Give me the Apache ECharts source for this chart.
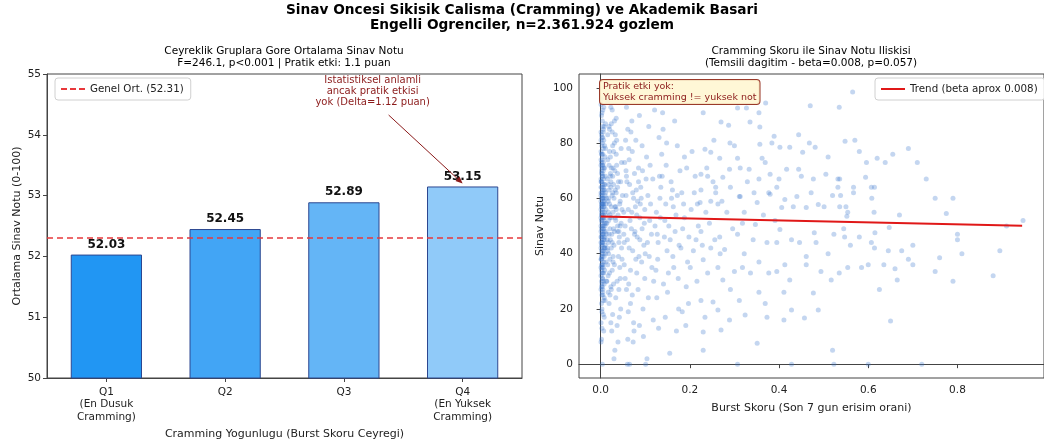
<!DOCTYPE html>
<html>
<head>
<meta charset="utf-8">
<script src="https://cdn.jsdelivr.net/npm/echarts@6/dist/echarts.min.js"></script>
<style>
html, body { margin: 0; padding: 0; background: #fff; }
#c { width: 1044px; height: 446px; }
</style>
</head>
<body>
<div id="c"></div>
<script>
// Quartile means (left panel)
const ceyrekler = ['Q1\n(En Dusuk\nCramming)', 'Q2', 'Q3', 'Q4\n(En Yuksek\nCramming)'];
const ortalamaNot = [52.03, 52.45, 52.89, 53.15];
const genelOrtalama = 52.31;
const solYTikler = [50, 51, 52, 53, 54, 55];

// Burst score vs exam score (right panel)
const sagXTikler = [0, 0.2, 0.4, 0.6, 0.8];
const sagYTikler = [0, 20, 40, 60, 80, 100];
const trendX = [0, 0.945];
const trendY = [53.4, 50.1];

// representative sample of [burst score, exam score]
const dagilim = [
  // x ~ 0.00 - 0.015
  [0.002,52],[0.004,61],[0.001,44],[0.006,70],[0.003,38],[0.008,57],[0.005,49],[0.002,83],[0.007,33],[0.010,65],
  [0.001,27],[0.004,74],[0.009,46],[0.003,58],[0.006,41],[0.002,90],[0.011,54],[0.005,36],[0.001,67],[0.008,29],
  [0.003,79],[0.012,48],[0.004,56],[0.007,63],[0.002,22],[0.006,85],[0.010,42],[0.001,59],[0.009,71],[0.005,31],
  [0.003,47],[0.013,60],[0.002,76],[0.008,39],[0.004,53],[0.006,18],[0.011,68],[0.001,35],[0.007,81],[0.003,45],
  [0.005,62],[0.002,28],[0.009,55],[0.004,88],[0.012,37],[0.006,50],[0.001,72],[0.008,24],[0.003,64],[0.010,43],
  [0.002,57],[0.007,93],[0.005,33],[0.004,69],[0.001,15],[0.006,47],[0.011,78],[0.003,40],[0.009,51],[0.002,66],
  [0.014,30],[0.005,58],[0.001,84],[0.008,45],[0.004,26],[0.006,73],[0.003,54],[0.010,61],[0.002,36],[0.007,49],
  [0.001,94],[0.005,41],[0.012,56],[0.003,20],[0.006,67],[0.002,46],[0.009,34],[0.004,80],[0.008,53],[0.001,62],
  [0.007,12],[0.003,71],[0.005,44],[0.011,87],[0.002,39],[0.006,59],[0.004,31],[0.010,75],[0.001,50],[0.008,65],
  [0.003,25],[0.013,47],[0.005,82],[0.002,55],[0.007,37],[0.004,63],[0.009,42],[0.001,77],[0.006,30],[0.003,52],
  [0.002,9],[0.005,68],[0.008,86],[0.004,48],[0.011,40],[0.001,32],[0.006,57],[0.003,91],[0.010,23],[0.007,60],
  [0.002,43],[0.004,72],[0.012,51],[0.005,27],[0.001,64],[0.009,79],[0.003,35],[0.006,46],[0.008,17],[0.002,70],
  [0.004,58],[0.007,42],[0.001,53],[0.005,76],[0.003,29],[0.010,50],[0.006,84],[0.002,38],[0.011,62],[0.004,44],
  [0.004,0],[0.001,8],[0.003,13],[0.005,92],[0.002,96],[0.006,54],[0.001,48],[0.003,66],[0.007,52],[0.002,60],
  [0.001,56],[0.003,62],[0.005,47],[0.002,41],[0.004,68],[0.006,35],[0.001,74],[0.003,51],[0.007,58],[0.002,30],
  [0.005,65],[0.004,43],[0.001,38],[0.006,78],[0.003,57],[0.008,48],[0.002,69],[0.005,25],[0.004,60],[0.001,46],
  [0.003,82],[0.006,53],[0.002,34],[0.007,71],[0.004,39],[0.001,61],[0.005,55],[0.003,19],[0.002,49],[0.006,64],
  [0.004,86],[0.001,42],[0.008,59],[0.003,33],[0.005,72],[0.002,54],[0.007,45],[0.004,28],[0.001,66],[0.006,40],
  [0.003,76],[0.002,58],[0.005,50],[0.004,36],[0.001,81],[0.009,63],[0.003,44],[0.006,23],[0.002,73],[0.005,60],
  // x ~ 0.015 - 0.05
  [0.018,55],[0.022,68],[0.016,41],[0.027,79],[0.031,48],[0.020,33],[0.035,62],[0.024,57],[0.019,86],[0.041,44],
  [0.028,71],[0.017,26],[0.033,53],[0.045,66],[0.021,38],[0.026,92],[0.038,50],[0.023,15],[0.030,60],[0.016,74],
  [0.043,35],[0.025,47],[0.019,63],[0.036,81],[0.029,29],[0.048,56],[0.022,45],[0.032,70],[0.018,52],[0.040,39],
  [0.026,84],[0.034,24],[0.020,58],[0.047,73],[0.024,42],[0.015,67],[0.039,54],[0.027,18],[0.031,88],[0.021,49],
  [0.044,31],[0.017,59],[0.035,76],[0.028,37],[0.023,64],[0.042,46],[0.019,22],[0.033,83],[0.025,53],[0.049,61],
  [0.037,14],[0.022,69],[0.030,43],[0.016,95],[0.046,51],[0.026,34],[0.034,57],[0.020,77],[0.041,27],[0.029,65],
  [0.018,40],[0.032,5],[0.024,87],[0.038,48],[0.027,62],[0.045,20],[0.021,54],[0.036,72],[0.017,32],[0.043,58],
  [0.025,12],[0.031,80],[0.019,47],[0.040,66],[0.023,28],[0.047,42],[0.035,89],[0.028,55],[0.016,36],[0.033,63],
  [0.039,8],[0.022,75],[0.044,50],[0.026,44],[0.030,2],[0.018,60],[0.037,30],[0.024,71],[0.048,38],[0.020,85],
  [0.034,52],[0.042,17],[0.027,68],[0.015,45],[0.032,57],[0.046,78],[0.021,25],[0.029,49],[0.038,64],[0.023,93],
  [0.012,58],[0.017,44],[0.023,66],[0.014,51],[0.028,39],[0.019,72],[0.035,56],[0.013,30],[0.026,61],[0.041,48],
  [0.016,83],[0.031,36],[0.021,53],[0.038,69],[0.015,42],[0.044,59],[0.024,27],[0.018,65],[0.052,47],[0.029,77],
  // x ~ 0.05 - 0.12
  [0.052,55],[0.058,68],[0.064,42],[0.071,77],[0.055,31],[0.083,59],[0.061,85],[0.076,47],[0.090,64],[0.067,22],
  [0.098,51],[0.054,73],[0.079,38],[0.087,90],[0.062,56],[0.105,44],[0.072,62],[0.058,27],[0.094,70],[0.069,49],
  [0.112,58],[0.081,33],[0.056,81],[0.100,40],[0.065,65],[0.088,53],[0.074,15],[0.117,67],[0.060,45],[0.093,79],
  [0.078,57],[0.053,36],[0.107,24],[0.085,71],[0.066,52],[0.097,43],[0.070,88],[0.115,35],[0.057,61],[0.082,46],
  [0.103,75],[0.063,29],[0.091,60],[0.075,12],[0.110,52],[0.068,84],[0.086,39],[0.059,66],[0.099,56],[0.077,48],
  [0.119,30],[0.064,74],[0.095,20],[0.080,63],[0.055,50],[0.108,86],[0.072,41],[0.089,58],[0.061,9],[0.102,67],
  [0.084,27],[0.070,55],[0.114,47],[0.058,93],[0.092,37],[0.076,69],[0.065,0],[0.060,0],[0.101,0],[0.104,2],
  [0.096,10],[0.073,8],[0.087,14],[0.062,19],[0.106,61],[0.079,81],[0.053,44],[0.111,72],[0.067,34],[0.093,49],
  [0.118,16],[0.081,54],[0.057,70],[0.099,31],[0.074,60],[0.088,45],[0.063,78],[0.109,39],[0.071,25],[0.085,66],
  // x ~ 0.12 - 0.22
  [0.122,50],[0.135,64],[0.128,38],[0.147,72],[0.156,45],[0.131,82],[0.163,57],[0.141,29],[0.172,61],[0.125,55],
  [0.180,42],[0.138,68],[0.152,33],[0.188,75],[0.127,47],[0.166,88],[0.144,52],[0.195,37],[0.133,60],[0.175,20],
  [0.158,66],[0.121,92],[0.184,49],[0.149,41],[0.137,76],[0.169,54],[0.192,28],[0.129,44],[0.161,63],[0.145,17],
  [0.178,70],[0.153,50],[0.126,24],[0.186,58],[0.140,85],[0.164,35],[0.198,46],[0.132,68],[0.155,4],[0.172,79],
  [0.146,58],[0.191,14],[0.124,34],[0.167,48],[0.139,91],[0.182,62],[0.150,26],[0.176,43],[0.134,53],[0.193,71],
  [0.159,60],[0.170,12],[0.143,46],[0.188,53],[0.130,13],[0.183,19],[0.197,22],[0.162,39],[0.148,80],[0.174,31],
  [0.203,56],[0.208,41],[0.212,68],[0.216,30],[0.205,77],[0.219,50],[0.210,62],[0.214,45],[0.201,35],[0.217,58],
  // x ~ 0.22 - 0.55
  [0.230,91],[0.270,87.6],[0.307,92.7],[0.327,92.7],[0.355,91],[0.335,87.6],[0.357,85.8],[0.287,86.5],[0.470,93.5],[0.370,94.5],
  [0.234,77.8],[0.247,76.7],[0.290,80],[0.300,79],[0.254,81],[0.357,79.6],[0.384,80],[0.389,82.5],[0.402,78.5],[0.424,78.5],
  [0.444,83],[0.453,76.7],[0.468,80],[0.481,78.5],[0.510,75],[0.267,74.5],[0.307,74.5],[0.362,74.5],[0.369,73],[0.417,70.5],
  [0.444,70.5],[0.450,68],[0.477,67],[0.505,68.7],[0.532,67],[0.225,68.7],[0.240,68],[0.274,67.6],[0.289,70.5],[0.313,71],
  [0.333,70.5],[0.355,67],[0.380,68.7],[0.400,67],[0.225,63],[0.252,66],[0.258,62],[0.291,64],[0.313,60.7],[0.344,62],
  [0.377,62],[0.395,64],[0.413,59.6],[0.440,60.7],[0.472,62],[0.488,57.8],[0.520,61],[0.223,58.5],[0.247,59],[0.263,58],
  [0.311,60.7],[0.322,55],[0.351,58.5],[0.380,61.5],[0.406,56.7],[0.432,57],[0.461,56.7],[0.501,57],[0.225,48],[0.256,45],
  [0.247,42],[0.267,46],[0.278,41.5],[0.307,47],[0.322,40],[0.347,50.5],[0.355,37],[0.373,44],[0.395,44],[0.402,48.7],
  [0.428,45],[0.446,44],[0.461,39],[0.479,47.6],[0.483,44],[0.510,40],[0.523,47],[0.230,37.8],[0.240,33],[0.263,35],
  [0.274,30.5],[0.300,33.5],[0.318,35],[0.336,33],[0.377,33],[0.395,33.5],[0.413,36],[0.424,30.5],[0.461,36],[0.477,25.8],
  [0.494,33.5],[0.517,30.5],[0.225,23],[0.252,22.5],[0.291,27],[0.311,23],[0.355,26],[0.369,22],[0.411,26],[0.428,19.6],
  [0.457,16.7],[0.488,19.6],[0.234,17],[0.263,19.6],[0.289,16],[0.324,17.8],[0.373,17],[0.411,16],[0.230,11.6],[0.270,12.4],
  [0.351,7.6],[0.520,5],[0.230,5],[0.307,0],[0.428,0],[0.523,0],[0.236,55],[0.244,51],[0.258,64],[0.228,43],
  [0.283,55],[0.268,40],[0.296,49],[0.238,71],[0.342,45],[0.365,54],[0.318,51],[0.391,52],[0.329,66],[0.272,59],
  // x ~ 0.53 - 0.95
  [0.565,98.5],[0.548,80.7],[0.570,81],[0.580,77],[0.620,74.5],[0.655,76],[0.690,78],[0.710,73],[0.730,67],[0.750,60],
  [0.790,60],[0.775,54.5],[0.670,54],[0.947,52],[0.910,50],[0.800,47],[0.800,45],[0.810,40],[0.760,38.5],[0.750,33.5],
  [0.790,30],[0.895,41],[0.880,32],[0.700,43],[0.700,36],[0.690,38],[0.675,41],[0.660,34.5],[0.665,30.5],[0.625,27],
  [0.650,15.6],[0.645,41],[0.635,36],[0.615,47.6],[0.613,55],[0.607,44],[0.614,42],[0.600,36],[0.585,35],[0.580,46],
  [0.560,43],[0.554,35],[0.535,33],[0.547,46],[0.545,49],[0.550,57],[0.554,55],[0.536,57],[0.552,53.5],[0.567,62],
  [0.538,61],[0.567,64],[0.532,64],[0.536,67],[0.596,73],[0.638,73],[0.594,67.6],[0.607,64],[0.614,64],[0.608,60],
  [0.647,49.5],[0.600,0],[0.720,0],[0.535,93]
];

const chart = echarts.init(document.getElementById('c'), null, { renderer: 'canvas' });
const FONT = 'DejaVu Sans';
const koyuKirmizi = '#8b1a1a';
const ortRenk = '#e8383b';
const trendRenk = '#e01818';

const tickStil = { fontFamily: FONT, fontSize: 10.5, color: '#222' };
const eksenCizgi = { show: true, lineStyle: { color: '#444', width: 1 } };
const eksenTik = { show: true, length: 4, lineStyle: { color: '#444' } };
const lejantKutu = {
  itemWidth: 24, itemHeight: 2,
  padding: [6, 7, 6, 6],
  backgroundColor: 'rgba(255,255,255,0.85)',
  borderColor: '#d0d0d0', borderWidth: 1, borderRadius: 3,
  textStyle: { fontFamily: FONT, fontSize: 10.3, color: '#222' }
};

chart.setOption({
  animation: false,
  backgroundColor: '#fff',
  textStyle: { fontFamily: FONT },
  title: [
    {
      text: 'Sinav Oncesi Sikisik Calisma (Cramming) ve Akademik Basari\nEngelli Ogrenciler, n=2.361.924 gozlem',
      left: 'center', top: 3, padding: 0,
      textStyle: { fontFamily: FONT, fontSize: 13.7, fontWeight: 'bold', color: '#000', lineHeight: 15 }
    },
    {
      text: 'Ceyreklik Gruplara Gore Ortalama Sinav Notu\nF=246.1, p<0.001 | Pratik etki: 1.1 puan',
      left: 284, top: 45, textAlign: 'center', padding: 0,
      textStyle: { fontFamily: FONT, fontSize: 10.5, fontWeight: 'normal', color: '#000', lineHeight: 12 }
    },
    {
      text: 'Cramming Skoru ile Sinav Notu Iliskisi\n(Temsili dagitim - beta=0.008, p=0.057)',
      left: 811, top: 45, textAlign: 'center', padding: 0,
      textStyle: { fontFamily: FONT, fontSize: 10.5, fontWeight: 'normal', color: '#000', lineHeight: 12 }
    }
  ],
  legend: [
    Object.assign({
      data: [{ name: 'Genel Ort. (52.31)', icon: 'path://M0,0h6v2h-6z M9,0h6v2h-6z M18,0h6v2h-6z' }],
      left: 55, top: 78
    }, lejantKutu),
    Object.assign({
      data: [{ name: 'Trend (beta aprox 0.008)', icon: 'rect' }],
      left: 875, top: 78
    }, lejantKutu)
  ],
  grid: [
    { left: 47, top: 74, width: 475, height: 304, show: true, borderColor: '#444', borderWidth: 1, containLabel: false },
    { left: 579, top: 74, width: 474, height: 304, show: true, borderColor: '#444', borderWidth: 1, containLabel: false }
  ],
  xAxis: [
    {
      gridIndex: 0, type: 'category', data: ceyrekler,
      axisLine: eksenCizgi, axisTick: Object.assign({ alignWithLabel: true }, eksenTik),
      axisLabel: Object.assign({ margin: 8, lineHeight: 12.5, interval: 0 }, tickStil),
      splitLine: { show: false },
      name: 'Cramming Yogunlugu (Burst Skoru Ceyregi)', nameLocation: 'middle', nameGap: 50,
      nameTextStyle: { fontFamily: FONT, fontSize: 11, color: '#222' }
    },
    {
      gridIndex: 1, type: 'value', min: -0.0484, max: 0.994,
      axisLine: eksenCizgi,
      axisTick: Object.assign({ customValues: sagXTikler }, eksenTik),
      axisLabel: Object.assign({ customValues: sagXTikler, margin: 7, formatter: v => v.toFixed(1) }, tickStil),
      splitLine: { show: false },
      name: 'Burst Skoru (Son 7 gun erisim orani)', nameLocation: 'middle', nameGap: 25,
      nameTextStyle: { fontFamily: FONT, fontSize: 11, color: '#222' }
    }
  ],
  yAxis: [
    {
      gridIndex: 0, type: 'value', min: solYTikler[0], max: solYTikler[solYTikler.length - 1], interval: 1,
      axisLine: eksenCizgi, axisTick: eksenTik,
      axisLabel: Object.assign({ margin: 6 }, tickStil),
      splitLine: { show: false },
      name: 'Ortalama Sinav Notu (0-100)', nameLocation: 'middle', nameGap: 24,
      nameTextStyle: { fontFamily: FONT, fontSize: 11, color: '#222' }
    },
    {
      gridIndex: 1, type: 'value', min: -5, max: 105,
      axisLine: eksenCizgi,
      axisTick: Object.assign({ customValues: sagYTikler }, eksenTik),
      axisLabel: Object.assign({ customValues: sagYTikler, margin: 6 }, tickStil),
      splitLine: { show: false },
      name: 'Sinav Notu', nameLocation: 'middle', nameGap: 33,
      nameTextStyle: { fontFamily: FONT, fontSize: 11, color: '#222' }
    }
  ],
  series: [
    {
      type: 'bar', xAxisIndex: 0, yAxisIndex: 0,
      barWidth: '60%',
      data: ortalamaNot.map((v, i) => ({
        value: v,
        itemStyle: { color: ['#2196f3', '#42a5f5', '#64b5f6', '#90caf9'][i] }
      })),
      itemStyle: { borderColor: '#2c4790', borderWidth: 1 },
      label: {
        show: true, position: 'top', distance: 4,
        formatter: p => p.value.toFixed(2),
        fontFamily: FONT, fontSize: 12, fontWeight: 'bold', color: '#111'
      },
      z: 2
    },
    {
      name: 'Genel Ort. (52.31)', type: 'line', xAxisIndex: 0, yAxisIndex: 0,
      data: [], symbol: 'none',
      lineStyle: { color: ortRenk, type: [5, 3], width: 1.5 },
      itemStyle: { color: ortRenk },
      markLine: {
        silent: true, symbol: ['none', 'none'],
        label: { show: false },
        lineStyle: { color: ortRenk, type: [6, 4], width: 1.5 },
        data: [{ yAxis: genelOrtalama }]
      },
      z: 3
    },
    {
      type: 'scatter', xAxisIndex: 1, yAxisIndex: 1,
      data: dagilim, symbolSize: 5,
      itemStyle: { color: '#3b78cc', opacity: 0.3 },
      z: 2
    },
    {
      name: 'Trend (beta aprox 0.008)', type: 'line', xAxisIndex: 1, yAxisIndex: 1,
      data: trendX.map((x, i) => [x, trendY[i]]),
      symbol: 'none',
      lineStyle: { color: trendRenk, width: 2 },
      itemStyle: { color: trendRenk },
      z: 4
    }
  ]
});

// annotations placed from axis coordinates
function notlariCiz() {
  const hedef = chart.convertToPixel({ xAxisIndex: 0, yAxisIndex: 0 }, [3, ortalamaNot[3]]);
  const metinY = chart.convertToPixel({ yAxisIndex: 0 }, 54.72);
  const metinX = hedef[0] - 90;
  const bas = [metinX + 16, metinY + 24];
  const uc = [hedef[0], hedef[1] - 3];
  const aci = Math.atan2(uc[1] - bas[1], uc[0] - bas[0]);
  const ok = 7, gen = 3;
  const arka = [uc[0] - ok * Math.cos(aci), uc[1] - ok * Math.sin(aci)];
  const nx = -Math.sin(aci), ny = Math.cos(aci);

  const sagKose = chart.convertToPixel({ xAxisIndex: 1 }, -0.0484);

  chart.setOption({
    graphic: [
      {
        type: 'text', x: metinX, y: metinY, z: 10,
        style: {
          text: 'Istatistiksel anlamli\nancak pratik etkisi\nyok (Delta=1.12 puan)',
          fontFamily: FONT, fontSize: 10, lineHeight: 11, fill: koyuKirmizi,
          align: 'center', verticalAlign: 'middle'
        }
      },
      {
        type: 'line', z: 10,
        shape: { x1: bas[0], y1: bas[1], x2: arka[0], y2: arka[1] },
        style: { stroke: koyuKirmizi, lineWidth: 1 }
      },
      {
        type: 'polygon', z: 10,
        shape: { points: [uc, [arka[0] + nx * gen, arka[1] + ny * gen], [arka[0] - nx * gen, arka[1] - ny * gen]] },
        style: { fill: koyuKirmizi }
      },
      {
        type: 'text', x: sagKose + 21, y: 80, z: 10,
        style: {
          text: 'Pratik etki yok:\nYuksek cramming != yuksek not',
          fontFamily: FONT, fontSize: 9.5, lineHeight: 11, fill: koyuKirmizi,
          backgroundColor: 'rgba(255,246,210,0.9)', borderColor: '#9a3a2a', borderWidth: 1,
          borderRadius: 3, padding: [1, 3, 1, 3]
        }
      }
    ]
  });
}
notlariCiz();
</script>
</body>
</html>
